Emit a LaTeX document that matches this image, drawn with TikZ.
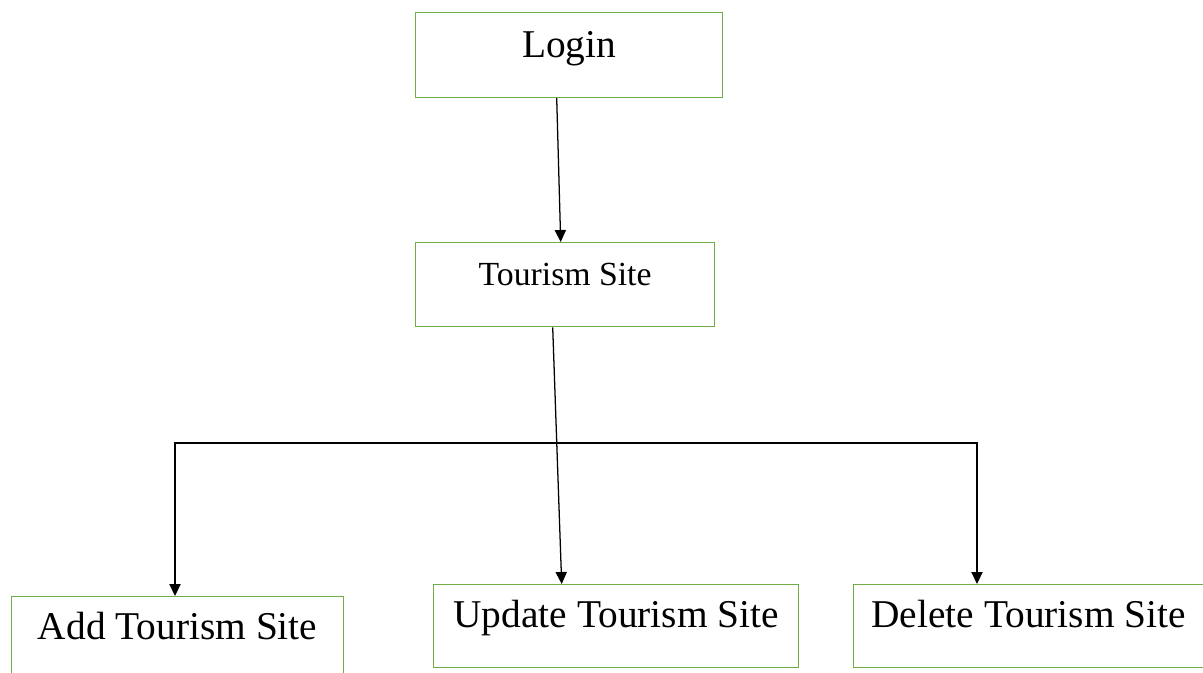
\documentclass[tikz,border=0pt]{standalone}
\usepackage{fontspec}
\setmainfont{Liberation Serif}
\usetikzlibrary{arrows.meta, calc}

\definecolor{boxgreen}{RGB}{112,173,71}

\begin{document}
\begin{tikzpicture}[
    x=0.025cm, y=-0.025cm,
    box/.style={rectangle, draw=boxgreen, line width=0.8pt, inner sep=0pt,
                text height=1.08cm, text depth=1.0cm, align=center,
                anchor=north west, font=\fontsize{28}{32}\selectfont},
    arrow/.style={-{Triangle[length=3mm, width=2.8mm]}, line width=0.9pt, draw=black},
    bus/.style={{Triangle[length=3mm, width=2.8mm]}-{Triangle[length=3mm, width=2.8mm]},
                line width=0.9pt, draw=black},
]
\useasboundingbox (0,0) rectangle (1203,672);

% boxes
\node[box, minimum width=7.675cm, text height=1.125cm] (login) at (415,12) {Login};
\node[box, minimum width=7.475cm, text depth=1.025cm,
      font=\fontsize{24}{28}\selectfont] (site) at (415,242) {Tourism Site};
\node[box, minimum width=8.3cm] (add) at (11,596) {Add Tourism Site};
\node[box, minimum width=9.125cm] (update) at (433,584) {Update Tourism Site};
\node[box, minimum width=8.75cm] (delete) at (853,584) {Delete Tourism Site};

% bus line
\coordinate (busL) at (175,443);
\coordinate (busR) at (977,443);

% arrows
\draw[arrow] ([xshift=-0.31cm]login.south) -- ([xshift=-0.11cm]site.north);
\draw[arrow] ([xshift=-0.31cm]site.south) -- ([xshift=-1.36cm]update.north);
\draw[bus] (busL |- add.north) |- (busR) -- (busR |- delete.north);
\end{tikzpicture}
\end{document}
